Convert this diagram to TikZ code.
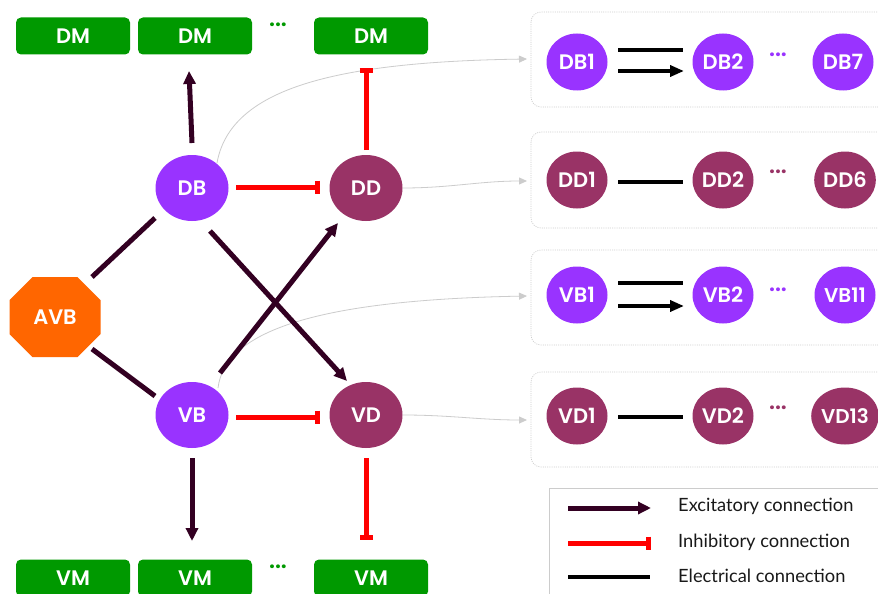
\documentclass[tikz,border=0pt]{standalone}
\usepackage{fontspec}
\setmainfont{Lato}
\newfontfamily\labfont{Poppins}[BoldFont={Poppins SemiBold}]
\usetikzlibrary{arrows.meta,calc,shapes.geometric}

\definecolor{bpurple}{HTML}{9933FF}
\definecolor{dmaroon}{HTML}{993366}
\definecolor{avborange}{HTML}{FF6600}
\definecolor{mgreen}{HTML}{009900}
\definecolor{excit}{HTML}{330022}
\definecolor{inhib}{HTML}{FF0000}
\definecolor{projgray}{HTML}{CCCCCC}

\tikzset{
  lab/.style={text=white, font=\labfont\bfseries\fontsize{21}{21}\selectfont},
  neuron/.style={ellipse, minimum width=73pt, minimum height=66pt, inner sep=0pt, lab},
  cell/.style={ellipse, minimum width=61pt, minimum height=57pt, inner sep=0pt, lab},
  longlab/.style={font=\labfont\bfseries\fontsize{20}{20}\selectfont},
  bcls/.style={fill=bpurple},
  dcls/.style={fill=dmaroon},
  muscle/.style={rectangle, rounded corners=5pt, fill=mgreen, minimum width=114pt,
    minimum height=37pt, inner sep=0pt, lab},
  dotsnode/.style={inner sep=0pt, font=\labfont\bfseries\fontsize{23}{23}\selectfont},
  exc/.style={draw=excit, line width=5pt, -{Triangle[length=13pt,width=12pt]}},
  wire/.style={draw=excit, line width=5pt},
  inh/.style={draw=inhib, line width=5pt, -{Bar[width=13pt]}},
  gapj/.style={draw=black, line width=4pt},
  gapexc/.style={draw=black, line width=4pt, -{Triangle[length=14pt,width=11pt]}},
  proj/.style={draw=projgray, line width=0.8pt, -{Triangle[length=8pt,width=7pt]}},
  groupbox/.style={draw=projgray, line width=0.7pt, dash pattern=on 1pt off 1.2pt, rounded corners=10pt},
  legtext/.style={anchor=west, inner sep=0pt, font=\fontsize{18.3}{18.3}\selectfont, text=black!90},
}

\begin{document}
\begin{tikzpicture}[x=1pt,y=-1pt]
\useasboundingbox (0,0) rectangle (878,594);
\fill[white] (0,0) rectangle (878,594);

% ---- motor neuron rows ----
\node[muscle] (DM1) at (73,36) {DM};
\node[muscle] (DM2) at (195,36) {DM};
\node[dotsnode, text=mgreen] (DMdots) at (278,25) {...};
\node[muscle] (DM3) at (371,36) {DM};

\node[muscle] (VM1) at (73,578) {VM};
\node[muscle] (VM2) at (195,578) {VM};
\node[dotsnode, text=mgreen] (VMdots) at (278,567) {...};
\node[muscle] (VM3) at (371,578) {VM};

% ---- command interneuron ----
\coordinate (avbc) at (55,317);
\fill[avborange, shift={(avbc)}] (-22.5,-40) -- (22.5,-40) -- (45.5,-17) -- (45.5,17)
  -- (22.5,40) -- (-22.5,40) -- (-45.5,17) -- (-45.5,-17) -- cycle;
\node[lab, inner sep=0pt] (AVB) at (avbc) {AVB};

% ---- motor neuron classes ----
\node[neuron, bcls] (DB) at (192,188) {DB};
\node[neuron, dcls] (DD) at (366,188) {DD};
\node[neuron, bcls] (VB) at (192,415) {VB};
\node[neuron, dcls] (VD) at (366,415) {VD};

% ---- projections to the individual neuron groups ----
\draw[proj] ($(DB)+(25,-25)$) .. controls (230,90) and (330,62) .. (527,59);
\draw[proj] ($(DD)+(37,0)$) .. controls (450,188) and (480,181) .. (527,181);
\draw[proj] ($(VB)+(26,-27)$) .. controls (225,330) and (320,300) .. (527,296);
\draw[proj] ($(VD)+(37,0)$) .. controls (450,415) and (480,420) .. (527,420);

% ---- connections ----
\draw[wire] ($(AVB)+(37,-40)$) -- ($(DB)+(-37,30)$);
\draw[wire] ($(AVB)+(37,32)$) -- ($(VB)+(-37,-19)$);
\draw[exc] ($(DB)+(18,43)$) -- ($(VD)+(-19,-34)$);
\draw[exc] ($(VB)+(28,-42)$) -- ($(DD)+(-28,35)$);
\draw[inh] ($(DB)+(44,-1)$) -- ($(DD)+(-46,-1)$);
\draw[inh] ($(VB)+(44,2)$) -- ($(VD)+(-46,2)$);
\draw[exc] ($(DB)+(0,-45)$) -- ($(DM2)+(-6,35)$);
\draw[inh] ($(DD)+(0,-38)$) -- ($(DM3)+(-5,32)$);
\draw[exc] ($(VB)+(0,43)$) -- ($(VM2)+(-3,-37)$);
\draw[inh] ($(VD)+(0,43)$) -- ($(VM3)+(-5,-38)$);

% ---- individual neuron groups ----
\draw[groupbox] (531,12) rectangle (900,107);
\draw[groupbox] (531,132) rectangle (900,228);
\draw[groupbox] (531,250) rectangle (900,345);
\draw[groupbox] (531,372) rectangle (900,467);

\node[cell, bcls] (DB1) at (577,62) {DB1};
\node[cell, bcls] (DB2) at (723,62) {DB2};
\node[dotsnode, text=bpurple] (DBdots) at (778,55) {...};
\node[cell, bcls] (DB7) at (843,62) {DB7};
\draw[gapj] ($(DB1)+(41,-12)$) -- ($(DB2)+(-40,-12)$);
\draw[gapexc] ($(DB1)+(41,9)$) -- ($(DB2)+(-39,9)$);

\node[cell, dcls] (DD1) at (577,180) {DD1};
\node[cell, dcls] (DD2) at (723,180) {DD2};
\node[dotsnode, text=dmaroon] (DDdots) at (778,172) {...};
\node[cell, dcls] (DD6) at (845,180) {DD6};
\draw[gapj] ($(DD1)+(41,2)$) -- ($(DD2)+(-40,2)$);

\node[cell, bcls] (VB1) at (577,295) {VB1};
\node[cell, bcls] (VB2) at (723,295) {VB2};
\node[dotsnode, text=bpurple] (VBdots) at (778,290) {...};
\node[cell, bcls, longlab] (VB11) at (845,295) {VB11};
\draw[gapj] ($(VB1)+(41,-12)$) -- ($(VB2)+(-40,-12)$);
\draw[gapexc] ($(VB1)+(41,11)$) -- ($(VB2)+(-39,11)$);

\node[cell, dcls] (VD1) at (577,416) {VD1};
\node[cell, dcls] (VD2) at (723,416) {VD2};
\node[dotsnode, text=dmaroon] (VDdots) at (778,408) {...};
\node[cell, dcls, longlab] (VD13) at (845,416) {VD13};
\draw[gapj] ($(VD1)+(41,1)$) -- ($(VD2)+(-40,1)$);

% ---- legend ----
\draw[draw=projgray, line width=0.8pt] (549,488) rectangle (900,610);
\coordinate (exA) at (568,508); \coordinate (exB) at (651,508);
\coordinate (inA) at (568,543); \coordinate (inB) at (651,543);
\coordinate (elA) at (568,577); \coordinate (elB) at (650,577);
\draw[exc] (exA) -- (exB);
\draw[inh] (inA) -- (inB);
\draw[gapj] (elA) -- (elB);
\node[legtext] (exT) at (678,506) {Excitatory connection};
\node[legtext] (inT) at (678,542) {Inhibitory connection};
\node[legtext] (elT) at (678,576) {Electrical connection};
\end{tikzpicture}
\end{document}
